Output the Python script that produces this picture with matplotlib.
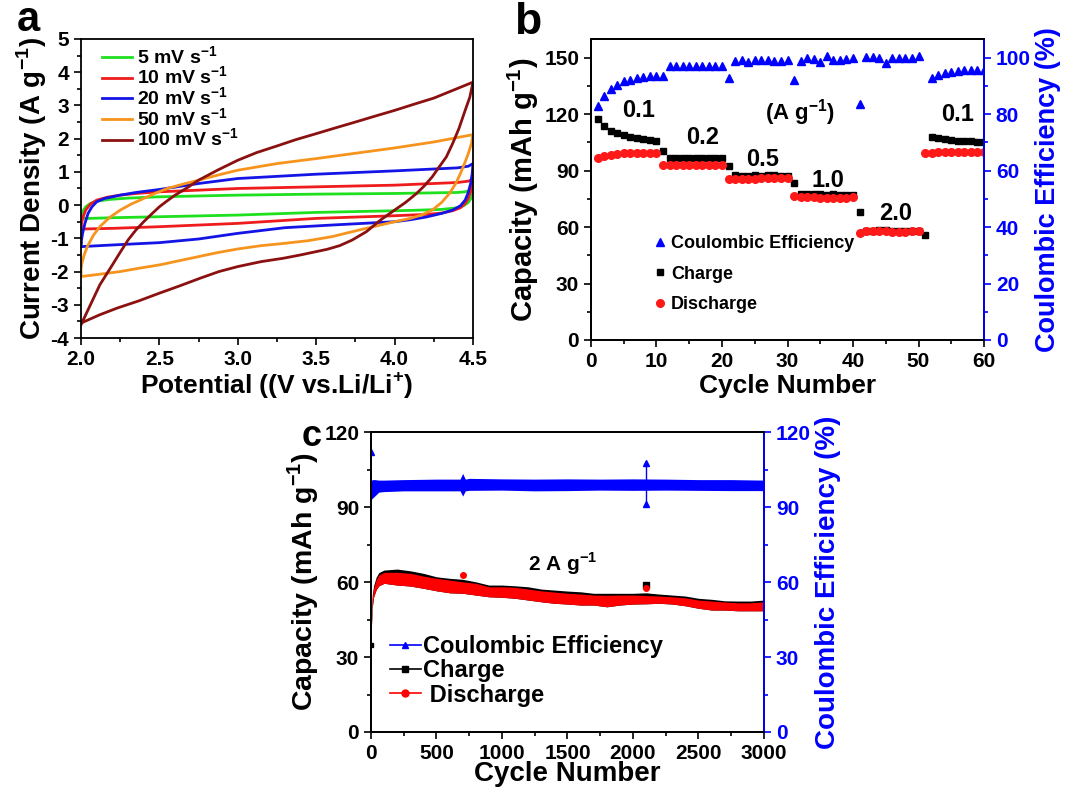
import numpy as np
import matplotlib
matplotlib.use("Agg")
import matplotlib.pyplot as plt
from matplotlib.ticker import MultipleLocator, FormatStrFormatter
from matplotlib.lines import Line2D

plt.rcParams['font.family'] = ['Liberation Sans', 'DejaVu Sans']
plt.rcParams['font.weight'] = 'bold'
plt.rcParams['axes.labelweight'] = 'bold'
plt.rcParams['mathtext.fontset'] = 'custom'
plt.rcParams['mathtext.rm'] = 'Liberation Sans:bold'
plt.rcParams['mathtext.bf'] = 'Liberation Sans:bold'
plt.rcParams['axes.unicode_minus'] = False

# ---- panel a: CV curves (anodic branch then cathodic branch) ----
cv_labels = ['5 mV s$^{-1}$', '10 mV s$^{-1}$', '20 mV s$^{-1}$', '50 mV s$^{-1}$', '100 mV s$^{-1}$']
cv_colors = ['#1ee01e', '#ee1c1c', '#1414e6', '#f7941d', '#8b1010']

v5 = [2.0, 2.01, 2.03, 2.06, 2.1, 2.18, 2.3, 2.5, 3.0, 3.5, 4.0, 4.4, 4.45, 4.48, 4.5,
      4.5, 4.49, 4.47, 4.44, 4.4, 4.3, 4.1, 3.5, 3.0, 2.5, 2.2, 2.05, 2.0, 2.0]
i5 = [-0.35, -0.2, -0.05, 0.05, 0.12, 0.17, 0.21, 0.25, 0.3, 0.33, 0.35, 0.38, 0.4, 0.44, 0.5,
      0.38, 0.22, 0.08, -0.02, -0.08, -0.13, -0.16, -0.22, -0.3, -0.35, -0.38, -0.4, -0.4, -0.35]

v10 = [2.0, 2.01, 2.03, 2.06, 2.1, 2.17, 2.25, 2.35, 2.5, 3.0, 3.5, 4.0, 4.4, 4.47, 4.5,
       4.495, 4.485, 4.47, 4.45, 4.42, 4.37, 4.3, 4.2, 4.0, 3.5, 3.0, 2.5, 2.2, 2.0, 2.0]
i10 = [-0.65, -0.4, -0.15, 0.03, 0.15, 0.24, 0.3, 0.35, 0.4, 0.5, 0.55, 0.6, 0.68, 0.72, 0.78,
       0.6, 0.4, 0.2, 0.05, -0.08, -0.17, -0.24, -0.28, -0.32, -0.4, -0.55, -0.65, -0.7, -0.72, -0.65]

v20 = [2.0, 2.01, 2.025, 2.045, 2.07, 2.1, 2.15, 2.25, 2.35, 2.5, 2.75, 3.0, 3.5, 4.0, 4.4, 4.47, 4.5,
       4.495, 4.485, 4.47, 4.45, 4.42, 4.37, 4.3, 4.2, 4.1, 4.0, 3.6, 3.3, 3.0, 2.75, 2.5, 2.2, 2.0, 2.0]
i20 = [-1.15, -0.85, -0.55, -0.25, -0.05, 0.1, 0.2, 0.3, 0.38, 0.47, 0.65, 0.8, 0.93, 1.03, 1.12, 1.17, 1.25,
       0.95, 0.65, 0.38, 0.15, -0.02, -0.15, -0.25, -0.36, -0.44, -0.5, -0.6, -0.68, -0.85, -1.02, -1.13,
       -1.2, -1.25, -1.15]

v50 = [2.0, 2.02, 2.04, 2.08, 2.12, 2.18, 2.25, 2.32, 2.4, 2.47, 2.55, 2.65, 2.75, 2.87, 3.0,
       3.25, 3.5, 3.75, 4.0, 4.25, 4.5,
       4.49, 4.47, 4.45, 4.42, 4.39, 4.35, 4.3, 4.24, 4.17, 4.1, 4.0, 3.8, 3.6, 3.45, 3.3, 3.15,
       3.0, 2.87, 2.75, 2.62, 2.5, 2.37, 2.25, 2.12, 2.0, 2.0]
i50 = [-1.85, -1.5, -1.25, -0.9, -0.65, -0.38, -0.15, 0.03, 0.2, 0.35, 0.5, 0.63, 0.75, 0.9, 1.05,
       1.25, 1.4, 1.56, 1.72, 1.9, 2.12,
       1.85, 1.55, 1.3, 0.95, 0.65, 0.35, 0.08, -0.15, -0.3, -0.4, -0.5, -0.72, -0.95, -1.07, -1.15, -1.22,
       -1.32, -1.43, -1.55, -1.68, -1.8, -1.9, -2.0, -2.08, -2.15, -1.85]

v100 = [2.0, 2.03, 2.06, 2.09, 2.12, 2.16, 2.2, 2.25, 2.3, 2.35, 2.4, 2.45, 2.5, 2.55, 2.6, 2.68,
        2.75, 2.87, 3.0, 3.12, 3.25, 3.37, 3.5, 3.62, 3.75, 3.87, 4.0, 4.12, 4.25, 4.37, 4.5,
        4.48, 4.45, 4.41, 4.37, 4.33, 4.28, 4.24, 4.19, 4.14, 4.07, 4.0, 3.91, 3.82, 3.73, 3.65,
        3.57, 3.5, 3.4, 3.29, 3.15, 3.0, 2.88, 2.76, 2.63, 2.5, 2.37, 2.23, 2.12, 2.0]
i100 = [-3.6, -3.3, -3.0, -2.7, -2.4, -2.1, -1.8, -1.42, -1.05, -0.75, -0.5, -0.27, -0.05, 0.13, 0.3, 0.53,
        0.75, 1.05, 1.35, 1.58, 1.78, 1.97, 2.15, 2.32, 2.5, 2.67, 2.85, 3.03, 3.22, 3.45, 3.7,
        3.25, 2.85, 2.3, 1.85, 1.45, 1.12, 0.85, 0.58, 0.35, 0.08, -0.15, -0.45, -0.8, -1.05, -1.22,
        -1.33, -1.4, -1.5, -1.6, -1.7, -1.85, -2.0, -2.2, -2.43, -2.65, -2.88, -3.1, -3.3, -3.55]

# ---- panel b: rate performance ----
cycles_b = np.arange(1, 61)
charge_b = [117.5, 114, 111.3, 110, 109, 108, 107.4, 106.7, 106.2, 105.6,
            100.3, 96.7, 96.5, 96.5, 96.5, 96.5, 96.5, 96.5, 96.5, 96.5,
            92.3, 87.5, 87.3, 87.3, 87.5, 87.3, 87.5, 87.5, 87.3, 87.3,
            83.3, 77.8, 77.5, 77.5, 77.8, 77.3, 77.5, 77.3, 77.3, 77.3,
            67.8, 58, 58, 58.2, 58.5, 58, 57.8, 58, 58, 58,
            55.7, 107.8, 107.2, 106.7, 106.3, 106, 105.8, 105.8, 105.4, 105.3]
discharge_b = [96.8, 98, 98.5, 98.9, 99.2, 99.4, 99.4, 99.4, 99.4, 99.4,
               93, 93.2, 93.2, 93.2, 93.2, 93.2, 93.2, 93.2, 93.2, 93.2,
               85.6, 85.6, 85.5, 85.8, 85.8, 86, 86, 86.2, 86, 86,
               76.3, 75.8, 75.8, 75.8, 75.6, 75.6, 75.6, 75.6, 75.6, 75.8,
               56.8, 57.7, 57.7, 57.9, 58, 57.5, 57.3, 57.6, 57.7, 57.7,
               99.4, 99.6, 99.7, 99.8, 99.8, 99.8, 99.8, 99.8, 99.8, 99.8]
ce_b = [83, 86.3, 89, 90.5, 91.6, 92.3, 92.8, 93.1, 93.5, 93.7,
        93.5, 97, 97, 97, 97, 97, 97, 97, 97, 97,
        92.9, 98.8, 99.2, 98.5, 99.3, 99.3, 99.3, 98.8, 98.8, 99.3,
        92.3, 98.8, 100, 99.4, 98.5, 100.6, 99.2, 99.2, 99.6, 99.9,
        83.7, 100.4, 100.4, 99.9, 98.2, 99.9, 99.9, 99.9, 99.9, 100.8,
        np.nan, 92.9, 94, 94.7, 95, 95.2, 95.5, 95.5, 95.6, 95.6]
rate_labels = ['0.1', '0.2', '0.5', '1.0', '2.0', '0.1']
rate_x = [7.3, 17.1, 26.2, 36.1, 46.5, 55.9]
rate_y = [122, 107.8, 95.7, 84.7, 67, 120]

# ---- panel c: long cycling at 2 A g-1 (band edges read every ~100 cycles) ----
cyc_c = [0, 10, 20, 40, 60, 100, 200, 300, 400, 500, 600, 700, 800, 900, 1000,
         1100, 1200, 1300, 1400, 1500, 1600, 1700, 1800, 1900, 2000, 2100, 2200,
         2300, 2400, 2500, 2600, 2700, 2800, 2900, 3000]
charge_top = [40, 55, 58.5, 62, 63.8, 64.8, 65.2, 64.5, 63.5, 62.1, 61.5, 61.1, 60.1, 58.8, 58.8,
              58.5, 58.1, 57.2, 56.8, 56.4, 56.1, 55.5, 55.5, 55.5, 55.5, 55.7, 55.2,
              54.8, 54.4, 53.5, 53.1, 52.5, 52.4, 52.4, 52.8]
dis_top = [40, 54, 57.5, 61, 62.8, 63.9, 63.9, 63.5, 62.4, 61.5, 60.8, 60.1, 59.5, 58.1, 58.1,
           57.9, 57.2, 56.5, 56.0, 55.5, 55.2, 54.8, 54.7, 54.8, 54.8, 54.6, 54.4,
           54.1, 53.7, 52.8, 52.4, 52.0, 51.7, 51.7, 52.1]
dis_bot = [38, 50, 54, 57, 58.5, 59.5, 58.8, 58.4, 57.5, 56.5, 55.7, 55.5, 54.8, 54.1, 53.9,
           53.5, 52.8, 52.1, 51.5, 51.2, 50.8, 50.8, 50.1, 50.8, 51.2, 51.3, 51.5,
           51.2, 50.5, 49.5, 48.8, 48.8, 48.5, 48.5, 48.5]
ce_cyc = [0, 10, 30, 60, 100, 250, 500, 680, 700, 720, 750, 1000, 1250, 1500, 1750,
          2000, 2250, 2500, 2750, 3000]
ce_top = [100.5, 101, 101, 100.8, 100.8, 101, 101.2, 101.2, 103.5, 101.2, 101.5, 101.3,
          101.2, 101.3, 101.2, 101.3, 101.2, 101, 101, 100.8]
ce_bot = [93, 93.5, 94.5, 96, 96.2, 96.5, 96.5, 96.5, 94.4, 96.5, 96.7, 96.8,
          96.5, 96.6, 96.8, 96.7, 96.8, 96.7, 96.6, 96.6]
ce_spike_x = [2100, 2100, 2100]
ce_spike_y = [107.5, 98.5, 91.2]
ce_first = (1, 112)
charge_first = (1, 35)
charge_spike = (2100, 59)
dis_spike = [(700, 62.8), (2100, 57.5)]

BLUE = '#0000ff'

fig = plt.figure(figsize=(10.66, 7.87), dpi=100)
ax_a = fig.add_axes([0.0760, 0.5705, 0.3677, 0.380])
ax_b = fig.add_axes([0.5544, 0.5680, 0.3687, 0.3825])
ax_c = fig.add_axes([0.3480, 0.0699, 0.3687, 0.3810])


def style(ax, fs=15):
    ax.tick_params(which='both', direction='out', width=1.2, labelsize=fs)
    ax.tick_params(which='major', length=5)
    ax.tick_params(which='minor', length=3)
    for s in ax.spines.values():
        s.set_linewidth(1.3)


# --- a ---
for v, i, c, lab in zip([v5, v10, v20, v50, v100], [i5, i10, i20, i50, i100], cv_colors, cv_labels):
    ax_a.plot(v, i, color=c, lw=2.0, label=lab)
ax_a.set_xlim(2.0, 4.5)
ax_a.set_ylim(-4, 5)
ax_a.xaxis.set_major_locator(MultipleLocator(0.5))
ax_a.xaxis.set_minor_locator(MultipleLocator(0.25))
ax_a.yaxis.set_major_locator(MultipleLocator(1))
ax_a.yaxis.set_minor_locator(MultipleLocator(0.5))
ax_a.xaxis.set_major_formatter(FormatStrFormatter('%.1f'))
style(ax_a)
ax_a.set_xlabel('Potential ((V vs.Li/Li$^{+}$)', fontsize=19, labelpad=1)
ax_a.set_ylabel('Current Density (A g$^{-1}$)', fontsize=20, labelpad=1)
ax_a.legend(loc='upper left', bbox_to_anchor=(0.02, 1.025), frameon=False, fontsize=14,
            handlelength=1.5, handletextpad=0.3, labelspacing=-0.1, borderpad=0.2)
fig.text(0.016, 0.975, 'a', fontsize=30, ha='left', va='center')

# --- b ---
ax_b.plot(cycles_b, charge_b, 's', color='black', ms=5, ls='none', label='Charge')
ax_b.plot(cycles_b, discharge_b, 'o', color='#ff1a1a', ms=5.5, ls='none', label='Discharge')
ax_b.set_xlim(0, 60)
ax_b.set_ylim(0, 160)
ax_b.xaxis.set_major_locator(MultipleLocator(10))
ax_b.xaxis.set_minor_locator(MultipleLocator(5))
ax_b.yaxis.set_major_locator(MultipleLocator(30))
ax_b.yaxis.set_minor_locator(MultipleLocator(15))
style(ax_b)
ax_b.set_xlabel('Cycle Number', fontsize=19, labelpad=2)
ax_b.set_ylabel('Capacity (mAh g$^{-1}$)', fontsize=21, labelpad=2)
bt = ax_b.twinx()
bt.plot(cycles_b, ce_b, '^', color=BLUE, ms=6, ls='none', label='Coulombic Efficiency')
bt.set_ylim(0, 160 * 2 / 3)
bt.yaxis.set_major_locator(MultipleLocator(20))
bt.yaxis.set_minor_locator(MultipleLocator(10))
style(bt)
bt.tick_params(axis='y', which='both', colors=BLUE)
bt.spines['right'].set_color(BLUE)
bt.set_ylabel('Coulombic Efficiency (%)', fontsize=19.5, color=BLUE, labelpad=3)
for lab, x, y in zip(rate_labels, rate_x, rate_y):
    ax_b.text(x, y, lab, fontsize=17, ha='center', va='center')
ax_b.text(31.9, 121, '(A g$^{-1}$)', fontsize=16, ha='center', va='center')
hb = [bt.get_lines()[0]] + ax_b.get_lines()
bt.legend(hb, [h.get_label() for h in hb], loc='upper left', bbox_to_anchor=(0.13, 0.39),
          frameon=False, fontsize=13, handlelength=0.6, handletextpad=0.3,
          labelspacing=0.75, borderpad=0.2)
fig.text(0.482, 0.972, 'b', fontsize=32, ha='left', va='center')

# --- c ---
ax_c.fill_between(cyc_c, dis_bot, charge_top, color='black', lw=0)
ax_c.fill_between(cyc_c, dis_bot, dis_top, color='#ff0000', lw=0)
ax_c.plot(*charge_first, 's', color='black', ms=3)
ax_c.plot(*charge_spike, 's', color='black', ms=4)
for x, y in dis_spike:
    ax_c.plot(x, y, 'o', color='#ff0000', ms=4)
ax_c.set_xlim(0, 3000)
ax_c.set_ylim(0, 120)
ax_c.xaxis.set_major_locator(MultipleLocator(500))
ax_c.xaxis.set_minor_locator(MultipleLocator(250))
ax_c.yaxis.set_major_locator(MultipleLocator(30))
ax_c.yaxis.set_minor_locator(MultipleLocator(15))
style(ax_c)
ax_c.set_xlabel('Cycle Number', fontsize=20, labelpad=-1)
ax_c.set_ylabel('Capacity (mAh g$^{-1}$)', fontsize=20.5, labelpad=2)
ax_c.text(1460, 67.5, '2 A g$^{-1}$', fontsize=15, ha='center', va='center')
ct = ax_c.twinx()
ct.fill_between(ce_cyc, ce_bot, ce_top, color=BLUE, lw=0)
ct.plot(ce_spike_x, ce_spike_y, '-^', color=BLUE, ms=5, lw=1)
ct.plot(*ce_first, '^', color=BLUE, ms=4)
ct.set_ylim(0, 120)
ct.yaxis.set_major_locator(MultipleLocator(30))
ct.yaxis.set_minor_locator(MultipleLocator(15))
style(ct)
ct.tick_params(axis='y', which='both', colors=BLUE)
ct.spines['right'].set_color(BLUE)
ct.set_ylabel('Coulombic Efficiency (%)', fontsize=20, color=BLUE, labelpad=3)
hc = [Line2D([], [], color=BLUE, marker='^', ms=5, lw=1.2),
      Line2D([], [], color='black', marker='s', ms=4, lw=1.2),
      Line2D([], [], color='#ff0000', marker='o', ms=5, lw=1.2)]
ct.legend(hc, ['Coulombic Efficiency', 'Charge', ' Discharge'], loc='upper left',
          bbox_to_anchor=(0.012, 0.37), frameon=False, fontsize=17, handlelength=1.3,
          handletextpad=0.1, labelspacing=0.05, borderpad=0.1)
fig.text(0.283, 0.445, 'c', fontsize=26, ha='left', va='center')

# make all tick labels bold once the ticks exist
fig.canvas.draw()
for ax in [ax_a, ax_b, bt, ax_c, ct]:
    for t in ax.get_xticklabels() + ax.get_yticklabels():
        t.set_fontweight('bold')

fig.savefig('out.png', dpi=100)
